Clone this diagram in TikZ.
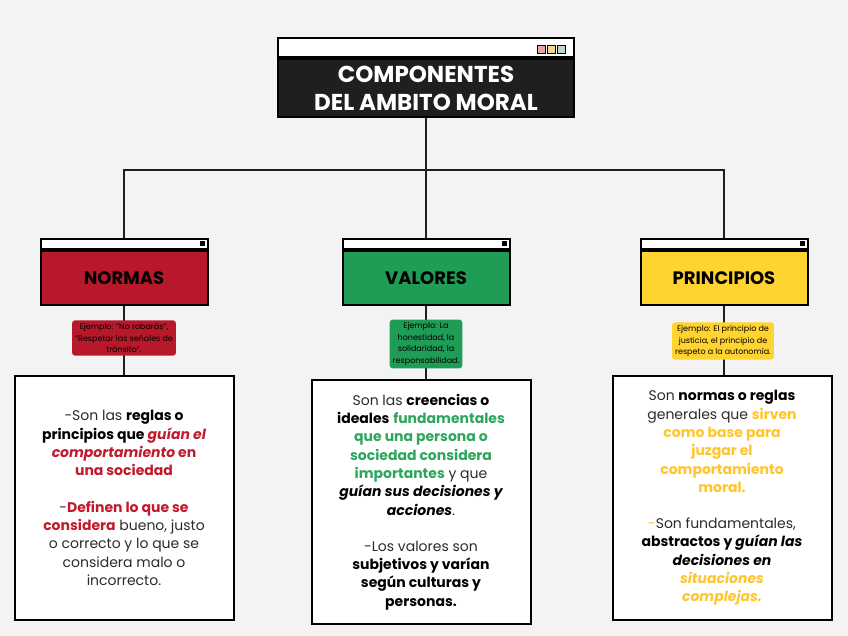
\documentclass[tikz,border=0pt]{standalone}
\usepackage{fontspec}
\setmainfont{Poppins}
\usepackage{xcolor}
\definecolor{Paper}{HTML}{F3F3F3}
\definecolor{LineDark}{HTML}{1F1F1F}
\definecolor{TitleDark}{HTML}{1E1F1F}
\definecolor{NormRed}{HTML}{B8192A}
\definecolor{ValGreen}{HTML}{1F9C55}
\definecolor{PrinYellow}{HTML}{FFD330}
\definecolor{RedText}{HTML}{C21A2C}
\definecolor{GreenText}{HTML}{2EA55D}
\definecolor{YellowText}{HTML}{FFC52A}
\definecolor{BodyText}{HTML}{2B2B2B}
\definecolor{DotPink}{HTML}{E8A3A3}
\definecolor{DotYellow}{HTML}{F1D98F}
\definecolor{DotGreen}{HTML}{B9DCC8}
\usepackage{tikz}
\usetikzlibrary{positioning, backgrounds}

\tikzset{
  conn/.style={draw=LineDark, line width=1.8pt},
  titlebody/.style={draw=black, line width=2pt, fill=TitleDark, inner sep=0pt,
    minimum width=296, minimum height=58, align=center, text=white,
    font=\bfseries\fontsize{23}{28}\selectfont},
  titlebar/.style={draw=black, line width=2pt, fill=white, inner sep=0pt,
    minimum width=296, minimum height=19},
  windot/.style={draw=black, line width=1pt, inner sep=0pt, minimum size=8},
  kindbody/.style={draw=black, line width=2pt, inner sep=0pt,
    minimum width=167, minimum height=54, text=black,
    font=\bfseries\fontsize{18}{20}\selectfont},
  kindbar/.style={draw=black, line width=2pt, fill=white, inner sep=0pt,
    minimum width=167, minimum height=10},
  kinddot/.style={fill=black, inner sep=0pt, minimum size=5},
  tagbox/.style={rounded corners=3pt, inner sep=3pt, align=center, text=black,
    font=\fontsize{8}{11.5}\selectfont},
  descbox/.style={draw=black, line width=2pt, fill=white, inner sep=0pt,
    minimum width=219, minimum height=244, align=center, text=BodyText,
    font=\fontsize{14}{18.3}\selectfont},
}

\begin{document}
\begin{tikzpicture}[x=1pt, y=-1pt]
  \useasboundingbox (0,0) rectangle (848,636);
  \begin{scope}[on background layer]
    \fill[Paper] (0,0) rectangle (848,636);
  \end{scope}

  %% title window
  \node[titlebody] (title) at (426,88) {COMPONENTES\\DEL AMBITO MORAL};
  \node[titlebar, above=0pt of title] (titlebar) {};
  \node[windot, fill=DotPink]   (dotA) at (541,49.5) {};
  \node[windot, fill=DotYellow] (dotB) at (551,49.5) {};
  \node[windot, fill=DotGreen]  (dotC) at (561,49.5) {};

  %% three kinds
  \node[kindbody, fill=NormRed]    (norma) at (124,278) {NORMAS};
  \node[kindbody, fill=ValGreen]   (valor) at (426,278) {VALORES};
  \node[kindbody, fill=PrinYellow] (princ) at (724,278) {PRINCIPIOS};
  \foreach \k in {norma, valor, princ}{
    \node[kindbar, above=0pt of \k] (\k bar) {};
    \node[kinddot] (\k dot) at ([xshift=-6pt]\k bar.east) {};
  }

  %% examples
  \node[tagbox, fill=NormRed] (normtag) at (124,338)
    {Ejemplo: "No robarás",\\"Respetar las señales de\\tránsito".};
  \node[tagbox, fill=ValGreen] (valtag) at (426,344)
    {Ejemplo: La\\honestidad, la\\solidaridad, la\\responsabilidad.};
  \node[tagbox, fill=PrinYellow] (printag) at (723,341)
    {Ejemplo: El principio de\\justicia, el principio de\\respeto a la autonomía.};

  %% descriptions
  \node[descbox] (normdesc) at (124,498)
    {-Son las \textbf{\color{black}reglas o}\\
     \textbf{\color{black}principios que \textit{\color{RedText}guían el}}\\
     {\bfseries\color{RedText}\textit{comportamiento} en}\\
     {\bfseries\color{RedText}una sociedad}\\[18pt]
     -{\bfseries\color{RedText}Definen lo que se}\\
     {\bfseries\color{RedText}considera} bueno, justo\\
     o correcto y lo que se\\
     considera malo o\\
     incorrecto.};
  \node[descbox] (valdesc) at (421,502)
    {Son las \textbf{\color{black}creencias o}\\
     \textbf{\color{black}ideales} {\bfseries\color{GreenText}fundamentales}\\
     {\bfseries\color{GreenText}que una persona o}\\
     {\bfseries\color{GreenText}sociedad considera}\\
     {\bfseries\color{GreenText}importantes} y que\\
     {\bfseries\itshape\color{black}guían sus decisiones y}\\
     {\bfseries\itshape\color{black}acciones}.\\[18pt]
     -Los valores son\\
     {\bfseries\color{black}subjetivos y varían}\\
     {\bfseries\color{black}según culturas y}\\
     {\bfseries\color{black}personas.}};
  \node[descbox] (prindesc) at (722,498)
    {Son \textbf{\color{black}normas o reglas}\\
     generales que {\bfseries\color{YellowText}sirven}\\
     {\bfseries\color{YellowText}como base para}\\
     {\bfseries\color{YellowText}juzgar el}\\
     {\bfseries\color{YellowText}comportamiento}\\
     {\bfseries\color{YellowText}moral.}\\[18pt]
     {\color{YellowText}-}Son fundamentales,\\
     {\bfseries\color{black}abstractos y \textit{guían las}}\\
     {\bfseries\itshape\color{black}decisiones en}\\
     {\bfseries\itshape\color{YellowText}situaciones}\\
     {\bfseries\itshape\color{YellowText}complejas.}};

  %% connectors
  \coordinate (hub) at (426,170);
  \begin{scope}[on background layer]
    \draw[conn] (title.south) -- (hub);
    \draw[conn] (hub) -| (normabar.north);
    \draw[conn] (hub) -- (valorbar.north);
    \draw[conn] (hub) -| (princbar.north);
    \draw[conn] (norma.south) -- (normdesc.north -| norma.south);
    \draw[conn] (valor.south) -- (valdesc.north -| valor.south);
    \draw[conn] (princ.south) -- (prindesc.north -| princ.south);
  \end{scope}
\end{tikzpicture}
\end{document}
